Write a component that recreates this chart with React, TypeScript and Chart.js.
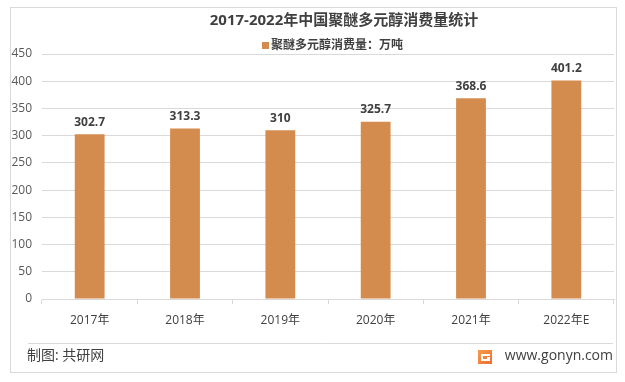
import React, { useEffect, useRef } from "react";
import { Chart, registerables } from "chart.js";

Chart.register(...registerables);

const categories = ["2017年", "2018年", "2019年", "2020年", "2021年", "2022年E"];
const consumption = [302.7, 313.3, 310, 325.7, 368.6, 401.2];
const seriesName = "聚醚多元醇消费量：万吨";
const titleText = "2017-2022年中国聚醚多元醇消费量统计";
const sourceText = "制图: 共研网";
const siteText = "www.gonyn.com";
const yTicks = { min: 0, max: 450, step: 50 };

const FONT = "'Open Sans', 'Noto Sans CJK SC', sans-serif";
const BAR = "#D38C4E";
const TEXT = "#404040";

const decorPlugin = {
  id: "decor",
  beforeDraw(chart: any) {
    const ctx = chart.ctx;
    ctx.save();
    ctx.fillStyle = "#ffffff";
    ctx.fillRect(0, 0, chart.width, chart.height);
    ctx.strokeStyle = "#d9d9d9";
    ctx.lineWidth = 1;
    ctx.strokeRect(10.5, 7.5, 606, 365);
    ctx.beginPath();
    ctx.moveTo(28, 343.5);
    ctx.lineTo(613, 343.5);
    ctx.stroke();
    ctx.restore();
  },
  afterDraw(chart: any) {
    const ctx = chart.ctx;
    ctx.save();
    // title
    ctx.fillStyle = TEXT;
    ctx.font = `bold 15px ${FONT}`;
    ctx.textAlign = "center";
    ctx.textBaseline = "middle";
    ctx.fillText(titleText, 344, 21);
    // legend
    ctx.font = `bold 12px ${FONT}`;
    ctx.textAlign = "left";
    ctx.fillStyle = BAR;
    ctx.fillRect(262, 42, 7, 7);
    ctx.fillStyle = TEXT;
    ctx.fillText(chart.data.datasets[0].label, 271, 46);
    // footer
    ctx.font = `14px ${FONT}`;
    ctx.textAlign = "left";
    ctx.fillText(sourceText, 27, 356);
    ctx.font = `14px ${FONT}`;
    ctx.textAlign = "right";
    ctx.fillText(siteText, 613, 356);
    // logo
    const g = ctx.createLinearGradient(478, 349, 492, 364);
    g.addColorStop(0, "#F6A04A");
    g.addColorStop(1, "#EE6B2F");
    ctx.fillStyle = g;
    ctx.fillRect(478, 350, 14, 14);
    ctx.fillStyle = "#ffffff";
    ctx.fillRect(481, 354, 9, 2);
    ctx.fillRect(481, 354, 2, 7);
    ctx.fillRect(481, 359, 9, 2);
    ctx.fillRect(487, 357, 3, 2);
    ctx.restore();
  },
  afterDatasetsDraw(chart: any) {
    const ctx = chart.ctx;
    const meta = chart.getDatasetMeta(0);
    ctx.save();
    ctx.fillStyle = TEXT;
    ctx.font = `bold 12px ${FONT}`;
    ctx.textAlign = "center";
    ctx.textBaseline = "middle";
    meta.data.forEach((el: any, i: number) => {
      ctx.fillText(String(consumption[i]), el.x, el.y - 12);
    });
    ctx.restore();
  },
};

export default function App() {
  const ref = useRef<HTMLCanvasElement>(null);
  useEffect(() => {
    const chart = new Chart(ref.current!, {
      type: "bar",
      data: {
        labels: categories,
        datasets: [
          {
            label: seriesName,
            data: consumption,
            backgroundColor: BAR,
            barPercentage: 0.625,
            categoryPercentage: 0.5,
          },
        ],
      },
      options: {
        animation: false,
        responsive: false,
        maintainAspectRatio: false,
        layout: { padding: { left: 10, right: 11, top: 54, bottom: 49 } },
        plugins: {
          title: { display: false },
          legend: { display: false },
          tooltip: { enabled: false },
        },
        scales: {
          x: {
            offset: true,
            grid: {
              display: true,
              drawOnChartArea: false,
              drawTicks: true,
              tickLength: 5,
              offset: true,
              color: "#d9d9d9",
            },
            border: { display: true, color: "#d9d9d9" },
            ticks: { color: TEXT, font: { family: FONT, size: 12 }, padding: 9 },
            afterFit(scale: any) {
              scale.height = 34;
            },
          },
          y: {
            min: yTicks.min,
            max: yTicks.max,
            ticks: {
              stepSize: yTicks.step,
              color: "#595959",
              font: { family: FONT, size: 12 },
              padding: 10,
            },
            grid: { color: "#d9d9d9", drawTicks: false },
            border: { display: false },
            afterFit(scale: any) {
              scale.width = 32;
            },
          },
        },
      },
      plugins: [decorPlugin],
    });
    return () => chart.destroy();
  }, []);
  return (
    <div style={{ position: "fixed", left: 0, top: 0, width: 625, height: 382 }}>
      <canvas ref={ref} width={625} height={382} style={{ width: 625, height: 382 }} />
    </div>
  );
}
